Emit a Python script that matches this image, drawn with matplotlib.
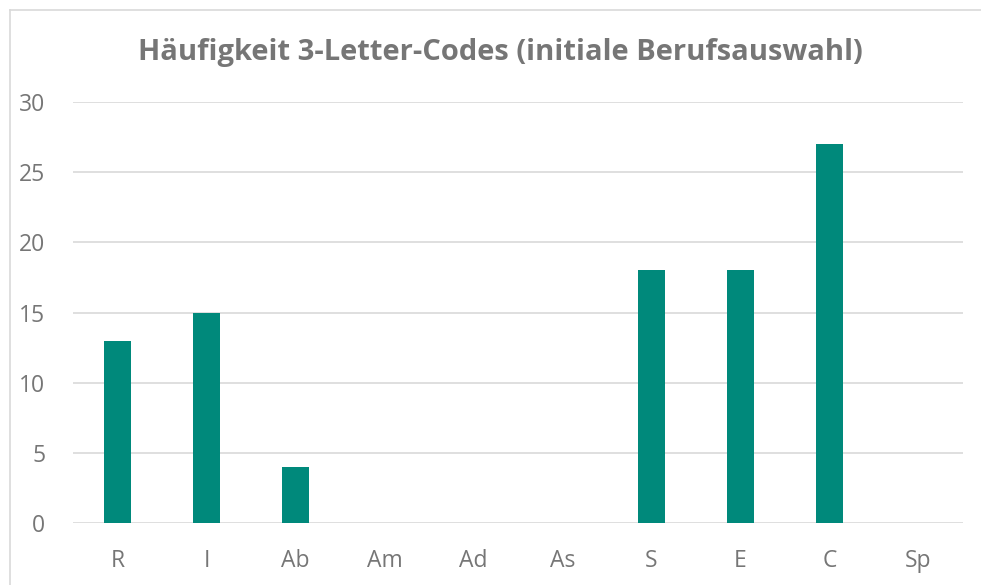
import matplotlib.pyplot as plt
from matplotlib.lines import Line2D

# Data
categories = ['R', 'I', 'Ab', 'Am', 'Ad', 'As', 'S', 'E', 'C', 'Sp']
counts = [13, 15, 4, 0, 0, 0, 18, 18, 27, 0]
yticks = [0, 5, 10, 15, 20, 25, 30]

plt.rcParams['font.family'] = ['Open Sans', 'DejaVu Sans']

fig = plt.figure(figsize=(9.81, 5.85), dpi=100)
W, H = 981, 585
ax = fig.add_axes([73 / W, (H - 523) / H, (963 - 73) / W, (523 - 102) / H])

x = range(len(categories))
ax.bar(x, counts, width=0.31, color='#00897B', zorder=3)

ax.set_xlim(-0.5, len(categories) - 0.5)
ax.set_ylim(0, 30)
ax.set_yticks(yticks)
ax.set_xticks(list(x))
ax.set_xticklabels(categories)
ax.yaxis.grid(True, color='#D9D9D9', linewidth=1.2, zorder=0)
for s in ax.spines.values():
    s.set_visible(False)
ax.tick_params(axis='both', length=0, labelsize=16.5, labelcolor='#767676')
ax.tick_params(axis='x', pad=19)
ax.tick_params(axis='y', pad=20)

fig.text(500 / W, 1 - 60 / H, 'Häufigkeit 3-Letter-Codes (initiale Berufsauswahl)',
         ha='center', va='baseline', fontsize=21, fontweight='bold', color='#767676')

# frame lines at top and left
fig.add_artist(Line2D([9.5 / W, 1], [1 - 9.5 / H, 1 - 9.5 / H], color='#D9D9D9', lw=1.2))
fig.add_artist(Line2D([9.5 / W, 9.5 / W], [0, 1 - 9.5 / H], color='#D9D9D9', lw=1.2))

fig.savefig('out.png', dpi=100)
